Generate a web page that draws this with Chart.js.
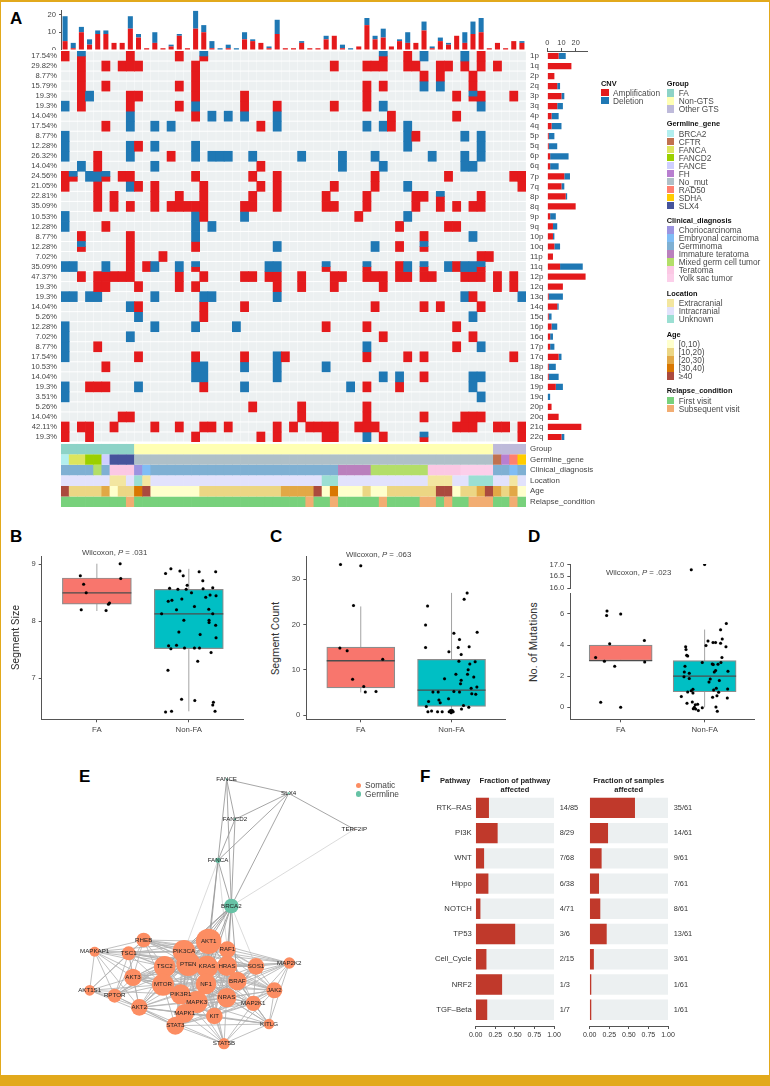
<!DOCTYPE html>
<html>
<head>
<meta charset="utf-8">
<title>CNV landscape</title>
<script src="https://cdn.jsdelivr.net/npm/chart.js@4/dist/chart.umd.js"></script>
<style>
html, body { margin: 0; padding: 0; background: #fff; }
#page { position: relative; width: 770px; height: 1086px; overflow: hidden; font-family: "Liberation Sans", Arial, sans-serif; color: #333; }
#page canvas { position: absolute; }
.txt { position: absolute; white-space: nowrap; transform: translateY(-50%); }
.frame { position: absolute; background: #e2a91c; }
</style>
</head>
<body>
<div id="page"></div>
<script>
// ---- panel A data: one list of sample columns per chromosome arm
var arms = ['1p','1q','2p','2q','3p','3q','4p','4q','5p','5q','6p','6q','7p','7q','8p','8q','9p','9q','10p','10q','11p','11q','12p','12q','13q','14q','15q','16p','16q','17p','17q','18p','18q','19p','19q','20p','20q','21q','22q'];
var armPct = ['17.54%','29.82%','8.77%','15.79%','19.3%','19.3%','14.04%','17.54%','8.77%','12.28%','26.32%','14.04%','24.56%','21.05%','22.81%','35.09%','10.53%','12.28%','8.77%','12.28%','7.02%','35.09%','47.37%','19.3%','19.3%','14.04%','5.26%','12.28%','7.02%','8.77%','17.54%','10.53%','14.04%','19.3%','3.51%','5.26%','14.04%','42.11%','19.3%'];
var ampCells = [
  [0,8,14,42,51],
  [2,5,7,8,9,16,33,37,38,39,42,43,46,47,49,51,53],
  [2,16,44,46,50],
  [2,5,14,16,37,39,50],
  [2,8,9,16,22,37,48,51,55],
  [2,8,14,22,26,33,37],
  [16,40,48],
  [5,24,40],
  [43],
  [9],
  [4,13],
  [4,24],
  [0,7,8,16,23,26,38,47,55,56],
  [0,4,9,11,17,24,26,33,38,56],
  [4,6,11,14,17,23,26,32,37,43,44,51],
  [4,6,8,11,13,14,15,16,17,22,23,26,32,33,37,43,46,48,50,51],
  [17,36],
  [5,41,47,48],
  [2,8,44],
  [8,16,41],
  [8,12,51,52],
  [8,10,41,48],
  [2,4,5,6,7,8,14,17,22,23,25,26,29,33,34,37,38,39,41,42,44,45,49,50,51,53,55],
  [4,5,9,14,16,26,29,33,39,53,55],
  [50],
  [9,17,22,38,44,46,51],
  [17],
  [32,37,48],
  [39,50],
  [4,48],
  [9,16,22,27,37,42,44,55],
  [5],
  [44],
  [3,4,5,17,37,41],
  [],
  [23,29,37],
  [7,8,29,37,44,49,50,51],
  [0,2,3,6,11,14,17,18,20,26,28,30,31,32,33,36,37,38,48,49,50,53,54,56],
  [0,3,16,24,26,32,33,39,56]
];
var delCells = [
  [44,49],[],[],[44,46],[3],[0,16,39,51],[8,18,20,22,26],[8,11,13,26,37,39,42],[0,42,49,51],[0,8,11,16,42,51],
  [0,8,16,18,19,20,23,29,34,38,45,49,51],[2,11,34,39,49,50],[3,4],[8,42],[],[],[0,16,22,42],[0,16,18],[16,50],[26,38],
  [],[0,1,5,11,14,25,26,42,47,49,50],[],[],[0,1,3,4,11,17,18,26,49,56],[8],[9,50],[0,11,16,21],[0,8],[0,37,51],
  [0,26],[16,17,22,26,32],[16,17,26,39,41,50,51],[0,9,22,35,50],[0,51],[],[],[],[37]
];
var bothCells = [
  [2,17,39],[],[],[],[50],[],[],[],[],[],[],[],[1,5],[],[46],[],[],[],[],[2,44],
  [],[16,32,37,44,51],[],[],[],[],[],[],[],[],[],[],[],[],[],[],[],[],[44]
];
var topAmp = [5,1,10,3,9,9,4,4,12,7,1,4,1,2,8,1,12,10,1,0,1,0,6,5,4,1,9,1,1,4,1,1,6,8,1,0,2,14,6,7,2,5,4,4,11,1,5,3,8,4,9,10,1,4,1,5,4];
var topDel = [14,3,3,3,2,2,0,0,7,2,0,6,0,1,1,0,10,4,4,1,2,1,4,1,0,1,8,0,0,1,0,0,2,0,2,1,0,4,2,5,0,1,6,0,5,1,2,1,0,6,7,8,0,0,0,0,1];
var sideAmp = [8,17,5,7,10,7,3,3,1,1,2,2,12,10,13,20,2,4,4,5,4,9,27,11,1,7,1,3,2,2,8,1,1,6,0,3,8,24,10];
var sideDel = [5,0,0,2,2,4,5,7,4,6,13,6,4,2,1,0,4,3,1,4,0,16,0,0,10,1,2,4,2,3,2,5,7,5,2,0,0,0,2];

// annotation tracks as runs of [level, number of samples]
var trackNames = ['Group','Germline_gene','Clinical_diagnosis','Location','Age','Relapse_condition'];
var groupRuns = [['FA',9],['Non-GTS',44],['Other GTS',4]];
var germlineRuns = [['BRCA2',1],['FANCA',2],['FANCD2',2],['FANCE',1],['SLX4',3],['No_mut',44],['CFTR',1],['FH',1],['RAD50',1],['SDHA',1]];
var clinicalRuns = [['Germinoma',4],['Mixed germ cell tumor',1],['Germinoma',1],['Teratoma',3],['Choriocarcinoma',1],['Embryonal carcinoma',1],['Germinoma',23],['Immature teratoma',4],['Mixed germ cell tumor',7],['Teratoma',4],['Yolk sac tumor',4],['Germinoma',2],['Embryonal carcinoma',1],['Germinoma',1]];
var locationRuns = [['Intracranial',6],['Extracranial',2],['Intracranial',1],['Unknown',1],['Extracranial',1],['Intracranial',21],['Unknown',2],['Intracranial',11],['Extracranial',3],['Intracranial',2],['Unknown',3],['Intracranial',2],['Extracranial',1],['Intracranial',1]];
var ageRuns = [['>=40',1],['[10,20)',4],['[20,30)',1],['[0,10)',1],['[10,20)',2],['[30,40)',1],['>=40',1],['[0,10)',6],['[10,20)',10],['[20,30)',4],['>=40',1],['[0,10)',1],['[30,40)',1],['[0,10)',3],['[10,20)',1],['[0,10)',2],['[10,20)',6],['>=40',2],['[0,10)',1],['[10,20)',2],['[20,30)',1],['>=40',1],['[20,30)',1],['[10,20)',1],['[20,30)',1],['[0,10)',1]];
var relapseRuns = [['First visit',8],['Subsequent visit',1],['First visit',21],['Subsequent visit',1],['First visit',2],['Subsequent visit',1],['First visit',5],['Subsequent visit',1],['First visit',4],['Subsequent visit',2],['First visit',1],['Subsequent visit',1],['First visit',2],['Subsequent visit',3],['First visit',2],['Subsequent visit',1],['First visit',1]];

var cnvLevels = ['Amplification','Deletion'];
var groupLevels = ['FA','Non-GTS','Other GTS'];
var germlineLevels = ['BRCA2','CFTR','FANCA','FANCD2','FANCE','FH','No_mut','RAD50','SDHA','SLX4'];
var clinicalLevels = ['Choriocarcinoma','Embryonal carcinoma','Germinoma','Immature teratoma','Mixed germ cell tumor','Teratoma','Yolk sac tumor'];
var locationLevels = ['Extracranial','Intracranial','Unknown'];
var ageLevels = ['[0,10)','[10,20)','[20,30)','[30,40)','>=40'];
var relapseLevels = ['First visit','Subsequent visit'];

// ---- panels B, C, D: x is group position plus jitter
var bFaX = [-.18,-.144,-.116,.253,.26,-.17,.1,.126,.137];
var bFaY = [8.8,8.65,8.5,9.01,8.75,8.2,8.19,8.3,8.32];
var bNonX = [.747,.805,.903,1.112,1.292,.939,1.152,.982,.791,.881,.971,1.155,1.26,1.029,1.231,1.296,1.184,.924,.816,.776,1.061,.866,1.217,.704,1.26,.946,1.22,1.22,1.292,.892,1.123,1.296,.78,.866,.805,.953,1.061,1.116,1.242,1.097,.773,.921,1.065,1.267,1.26,1.285,.747,.812];
var bNonY = [8.84,8.92,8.88,8.87,8.87,8.8,8.71,8.63,8.58,8.56,8.56,8.57,8.59,8.5,8.46,8.45,8.42,8.39,8.37,8.35,8.26,8.2,8.21,8.13,8.13,8.02,8.02,7.98,7.93,7.81,7.77,7.71,7.57,7.58,7.52,7.53,7.53,7.53,7.45,7.3,7.14,6.63,6.61,6.58,6.53,6.42,6.41,6.42];
var cFaX = [-.223,0,-.08,-.23,-.15,.242,-.09,.033,.05,.168];
var cFaY = [33.3,33,24.2,14.8,14.2,12.3,7.9,6.3,5.1,5.2];
var cNonX = [1.172,1.139,.736,.714,1.282,1.026,1.088,.714,1.073,1.194,.971,1.106,1.081,1.26,1.201,1.183,1.048,1.176,.923,1.245,1.106,1.099,1.279,1.216,.795,.853,1.026,1.088,1.223,1.267,.967,.747,.861,.875,.722,1.132,1.19,1.11,.74,.78,.846,.897,.974,.989,1.007,1.018,.996];
var cNonY = [27,25.6,24.1,19.9,18.3,18.1,16.7,14.9,14.9,15.1,14,13.4,11.9,11.8,11.3,10,9,9,8,8.4,7.7,6.9,6.2,5.9,5.1,5.1,5.2,5.1,4.7,4.6,3.6,3,3.3,2.7,1.9,2.1,1.7,1.3,.7,.9,.7,.7,.7,1,1,.7,.5];
var dFaX = [-.163,-.167,0,.282,-.131,-.298,-.194,.286,-.071,-.238,0];
var dFaY = [6.2,5.9,6,4.3,4.08,3.2,2.96,2.92,2.64,.32,0];
var dNonX = [1.258,1.19,1.04,1.21,1.1,1.13,1.19,1.016,1.254,.774,.778,.786,.798,1.206,.972,1.194,1.159,1.091,1.103,.766,1.131,1.115,.758,.817,1.278,.754,.817,1.067,1.052,1.175,1.139,1.107,1.274,1.167,.861,.841,.798,.861,.722,1.095,1.147,1.27,.853,.79,.889,.917,.877,.972,1.135,.865,.893,.925,1.151];
var dNonY = [5.39,4.98,4.27,4.4,4.16,4.16,4.12,3.97,3.9,3.9,3.71,3.35,3.3,3.2,2.88,2.88,2.77,2.79,2.75,2.64,2.36,2.27,2.27,2.19,2.32,1.97,1.85,1.82,1.63,1.72,1.22,1.12,1.18,.97,1.16,1.07,.99,.92,.69,.64,.75,.6,.34,.26,.17,.19,0,-.02,.02,-.09,-.11,-.21,-.26];
var dTopX = [.841,1];
var dTopY = [16.78,17];
var boxCats = ['FA','Non-FA'];
var bBox = {q1:[8.3,7.52], q3:[8.76,8.56], med:[8.5,8.13], lo:[8.18,6.42], hi:[9.01,8.92]};
var cBox = {q1:[6,1.9], q3:[15,12.3], med:[12,5.5], lo:[5,1], hi:[24,27]};
var dBox = {q1:[3,1], q3:[4,3], med:[3,2], lo:[3,0], hi:[4,5]};

// ---- panel E: node positions
var nodeNames = ['FANCE','SLX4','FANCD2','TERF2IP','FANCA','BRCA2','AKT1','RAF1','PIK3CA','RHEB','MAPKAP1','TSC1','SOS1','MAP2K2','HRAS','KRAS','PTEN','TSC2','AKT3','NF1','BRAF','MTOR','JAK2','AKT1S1','RPTOR','PIK3R1','NRAS','MAP2K1','MAPK3','AKT2','MAPK1','KIT','KITLG','STAT3','STAT5B'];
var nodeX = [530,716,555,913,504,544,476,532,402,281,134,236,618,718,531,471,415,344,249,468,562,339,673,119,194,392,530,610,440,268,404,493,657,376,522];
var nodeY = [58,100,178,208,301,438,544,569,574,540,575,580,619,609,618,620,612,620,652,672,663,674,691,691,707,703,713,730,726,742,760,768,792,797,851];
var nodeSize = [1,1,1,.5,2.7,7.3,12.7,8.3,11.3,7.3,5,7,8.3,5.7,10,11,12,10.7,8.7,10.3,9.3,11,8,5.3,7,10,9.7,7.7,11,8.3,9.3,8.3,5.3,9,5.7];
var germlineNodes = ['FANCE','SLX4','FANCD2','FANCA','BRCA2'];
var germlineLinks = [
  ['FANCE','SLX4 FANCD2 FANCA BRCA2'],
  ['SLX4','FANCD2 FANCA BRCA2 TERF2IP'],
  ['FANCD2','FANCA BRCA2'],
  ['FANCA','BRCA2 AKT1 KRAS'],
  ['BRCA2','AKT1 RAF1 PTEN PIK3CA KRAS HRAS BRAF NF1 TSC2 MTOR']
];
var faintLinks = [
  ['TERF2IP','BRCA2'],
  ['FANCA','PIK3CA RAF1'],
  ['BRCA2','SOS1 NRAS']
];
var somaticLinks = [
  ['MAPKAP1','RHEB TSC1 TSC2 AKT3 AKT1S1 RPTOR AKT2 MTOR PIK3CA AKT1 PTEN'],
  ['AKT1S1','TSC1 AKT3 RPTOR AKT2 MTOR RHEB STAT3 PIK3R1'],
  ['RPTOR','RHEB TSC1 TSC2 AKT3 AKT2 MTOR AKT1 PIK3CA STAT3 PTEN'],
  ['RHEB','TSC1 TSC2 AKT3 AKT1 PIK3CA PTEN MTOR RAF1 KRAS HRAS SOS1 MAP2K2 BRAF'],
  ['TSC1','TSC2 AKT3 AKT2 AKT1 PIK3CA PTEN MTOR KRAS HRAS NF1 SOS1 RAF1'],
  ['AKT3','TSC2 AKT2 AKT1 PIK3CA PTEN MTOR KRAS NF1 PIK3R1 BRAF NRAS MAPK3 HRAS MAP2K1'],
  ['AKT2','TSC2 MTOR PIK3R1 MAPK3 MAPK1 STAT3 STAT5B KIT PTEN AKT1 KRAS NF1 NRAS KITLG PIK3CA'],
  ['TSC2','MTOR PIK3CA PTEN AKT1 KRAS HRAS NF1 PIK3R1 BRAF NRAS MAPK3 RAF1 MAP2K1 SOS1'],
  ['MTOR','PIK3CA PTEN AKT1 KRAS HRAS NF1 PIK3R1 BRAF NRAS MAPK3 MAPK1 KIT STAT3 JAK2 MAP2K1'],
  ['PIK3CA','PTEN AKT1 KRAS HRAS NF1 PIK3R1 BRAF NRAS MAPK3 MAPK1 KIT RAF1 SOS1 MAP2K2 JAK2 STAT3'],
  ['PTEN','AKT1 KRAS HRAS NF1 PIK3R1 BRAF NRAS MAPK3 MAPK1 KIT STAT3 JAK2 MAP2K1'],
  ['AKT1','RAF1 KRAS HRAS NF1 PIK3R1 BRAF NRAS MAPK3 MAPK1 KIT SOS1 MAP2K2 STAT3 JAK2'],
  ['RAF1','KRAS HRAS NF1 BRAF NRAS MAPK3 MAPK1 SOS1 MAP2K2 MAP2K1 JAK2 KIT'],
  ['KRAS','HRAS NF1 BRAF NRAS MAPK3 MAPK1 SOS1 MAP2K2 MAP2K1 JAK2 KIT PIK3R1 KITLG STAT3 STAT5B'],
  ['HRAS','NF1 BRAF NRAS MAPK3 MAPK1 SOS1 MAP2K2 MAP2K1 JAK2 KIT PIK3R1 KITLG'],
  ['NF1','BRAF NRAS MAPK3 MAPK1 SOS1 MAP2K2 MAP2K1 JAK2 KIT PIK3R1 STAT3 STAT5B KITLG'],
  ['BRAF','NRAS MAPK3 MAPK1 SOS1 MAP2K2 MAP2K1 JAK2 KIT KITLG'],
  ['NRAS','MAPK3 MAPK1 SOS1 MAP2K2 MAP2K1 JAK2 KIT KITLG STAT3 STAT5B PIK3R1'],
  ['SOS1','MAP2K2 MAP2K1 JAK2 KIT MAPK3 MAPK1'],
  ['MAP2K2','MAP2K1 JAK2 KITLG MAPK3'],
  ['MAP2K1','JAK2 KIT KITLG STAT5B MAPK3 MAPK1 STAT3'],
  ['JAK2','KITLG STAT5B STAT3 KIT MAPK3'],
  ['MAPK3','PIK3R1 MAPK1 KIT STAT3 STAT5B KITLG'],
  ['PIK3R1','MAPK1 KIT STAT3 STAT5B'],
  ['MAPK1','KIT STAT3 STAT5B KITLG'],
  ['KIT','STAT3 STAT5B KITLG'],
  ['KITLG','STAT3 STAT5B'],
  ['STAT3','STAT5B']
];

// ---- panel F
var pathways = ['RTK\u2013RAS','PI3K','WNT','Hippo','NOTCH','TP53','Cell_Cycle','NRF2','TGF\u2013Beta'];
var pathwayFrac = [.165,.276,.103,.158,.056,.5,.133,.333,.143];
var pathwayCounts = ['14/85','8/29','7/68','6/38','4/71','3/6','2/15','1/3','1/7'];
var sampleFrac = [.574,.23,.148,.115,.131,.213,.049,.016,.016];
var sampleCounts = ['35/61','14/61','9/61','7/61','8/61','13/61','3/61','1/61','1/61'];

// ---- colours
var AMP = '#e41a1c', DEL = '#1f78b4', CELL = '#ecf0f1';
var levelColor = {
  'Amplification':AMP, 'Deletion':DEL,
  'FA':'#8dd3c7', 'Non-GTS':'#ffffb3', 'Other GTS':'#bebada',
  'BRCA2':'#b2eeee', 'CFTR':'#c1714f', 'FANCA':'#dde55e', 'FANCD2':'#9bd000', 'FANCE':'#cfcfff', 'FH':'#b87fd0', 'No_mut':'#afc0c8', 'RAD50':'#ff8070', 'SDHA':'#ffcc00', 'SLX4':'#46549c',
  'Choriocarcinoma':'#9c94e0', 'Embryonal carcinoma':'#80bdf5', 'Germinoma':'#7fb0d3', 'Immature teratoma':'#ba80bd', 'Mixed germ cell tumor':'#b3de69', 'Teratoma':'#fbc8e4', 'Yolk sac tumor':'#fccfea',
  'Extracranial':'#f3e6a0', 'Intracranial':'#e2e2fc', 'Unknown':'#9bdfd3',
  '[0,10)':'#ffffcc', '[10,20)':'#ecd684', '[20,30)':'#e2a846', '[30,40)':'#d97700', '>=40':'#ab4a3e',
  'First visit':'#78d17c', 'Subsequent visit':'#f2ad72'
};

Chart.defaults.font.family = '"Liberation Sans", Arial, sans-serif';
Chart.defaults.font.size = 7.6;
Chart.defaults.color = '#444';
Chart.defaults.animation = false;
Chart.defaults.responsive = false;
Chart.defaults.layout.autoPadding = false;
Chart.defaults.plugins.legend.display = false;
Chart.defaults.plugins.tooltip.enabled = false;

var page = document.getElementById('page');

function addCanvas(x, y, w, h) {
  var c = document.createElement('canvas');
  c.width = w; c.height = h;
  c.style.left = x + 'px'; c.style.top = y + 'px';
  c.style.width = w + 'px'; c.style.height = h + 'px';
  page.appendChild(c);
  return c;
}
function addText(html, x, y, css) {
  var d = document.createElement('div');
  d.className = 'txt';
  d.innerHTML = html;
  d.style.left = x + 'px'; d.style.top = y + 'px';
  d.style.cssText += ';' + (css || '');
  page.appendChild(d);
  return d;
}
// fix axis thickness so the plot area lands on a known pixel
function pinW(n) { return function(s) { s.width = n; s.paddingLeft = s.paddingRight = s.paddingTop = s.paddingBottom = 0; }; }
function pinH(n) { return function(s) { s.height = n; s.paddingLeft = s.paddingRight = s.paddingTop = s.paddingBottom = 0; }; }
function at(values) { return function(s) { s.ticks = values.map(function(v) { return {value: v}; }); }; }
function expand(runs) {
  var out = [];
  runs.forEach(function(r) { for (var i = 0; i < r[1]; i++) out.push(r[0]); });
  return out;
}
function indexes(n) { var a = []; for (var i = 0; i < n; i++) a.push(i); return a; }

var noGrid = {display: false, drawTicks: false};
var samples = indexes(57);
var armRows = indexes(arms.length);
var armTicks = armRows.map(function(r) { return r + .5; });

// frame
[[0,0,770,1.5],[0,0,1.2,1086],[769,0,1,1086],[0,1075,770,11]].forEach(function(f) {
  var d = document.createElement('div');
  d.className = 'frame';
  d.style.cssText = 'left:' + f[0] + 'px;top:' + f[1] + 'px;width:' + f[2] + 'px;height:' + f[3] + 'px';
  page.appendChild(d);
});

// panel letters
[['A',10,19],['B',10,537],['C',270,537],['D',528,537],['E',79,777],['F',420,777]].forEach(function(l) {
  addText(l[0], l[1], l[2], 'font:bold 17px "Liberation Sans";color:#000');
});

// ---- A: top bars
new Chart(addCanvas(30, 6, 496, 44), {
  type: 'bar',
  data: { labels: samples, datasets: [
    {data: topAmp, backgroundColor: AMP},
    {data: topDel, backgroundColor: DEL}
  ]},
  options: {
    layout: {padding: {top: 4}},
    datasets: {bar: {barPercentage: .62, categoryPercentage: 1}},
    scales: {
      x: {display: false, stacked: true},
      y: {stacked: true, min: 0, max: 22.5, afterFit: pinW(31), afterBuildTicks: at([0,10,20]),
          ticks: {padding: 3},
          grid: {drawOnChartArea: false, tickLength: 2, color: '#555'}, border: {color: '#555'}}
    }
  }
});

// ---- A: matrix
var matrixSets = [];
armRows.forEach(function(r) {
  matrixSets.push({data: samples.map(function() { return [r + .05, r + .95]; }), backgroundColor: CELL, barPercentage: .97, order: 3});
  var colors = [], vals = samples.map(function(c) {
    var isAmp = ampCells[r].indexOf(c) >= 0, isDel = delCells[r].indexOf(c) >= 0;
    colors.push(isAmp ? AMP : DEL);
    return (isAmp || isDel) ? [r, r + 1] : null;
  });
  matrixSets.push({data: vals, backgroundColor: colors, order: 2});
  if (bothCells[r].length) {
    matrixSets.push({data: samples.map(function(c) { return bothCells[r].indexOf(c) >= 0 ? [r, r + .5] : null; }), backgroundColor: DEL, order: 1});
    matrixSets.push({data: samples.map(function(c) { return bothCells[r].indexOf(c) >= 0 ? [r + .5, r + 1] : null; }), backgroundColor: AMP, order: 1});
  }
});
new Chart(addCanvas(20, 48, 535, 397), {
  type: 'bar',
  data: {labels: samples, datasets: matrixSets},
  options: {
    layout: {padding: {top: 3, bottom: 3}},
    datasets: {bar: {grouped: false, categoryPercentage: 1, barPercentage: 1}},
    scales: {
      x: {display: false},
      y: {reverse: true, min: 0, max: 39, afterFit: pinW(41), afterBuildTicks: at(armTicks),
          ticks: {autoSkip: false, padding: 4, callback: function(v, i) { return armPct[i]; }},
          grid: noGrid, border: {display: false}},
      yr: {position: 'right', reverse: true, min: 0, max: 39, afterFit: pinW(29), afterBuildTicks: at(armTicks),
          ticks: {autoSkip: false, padding: 4, font: {size: 8}, callback: function(v, i) { return arms[i]; }},
          grid: noGrid, border: {display: false}}
    }
  }
});

// ---- A: side bars
new Chart(addCanvas(540, 30, 56, 413), {
  type: 'bar',
  data: {labels: arms, datasets: [
    {data: sideAmp, backgroundColor: AMP},
    {data: sideDel, backgroundColor: DEL}
  ]},
  options: {
    indexAxis: 'y',
    layout: {padding: {left: 7.3, right: 9, bottom: 1}},
    datasets: {bar: {barPercentage: .62, categoryPercentage: 1}},
    scales: {
      y: {display: false, stacked: true},
      x: {position: 'top', stacked: true, min: 0, max: 28, afterFit: pinH(21), afterBuildTicks: at([0,10,20]),
          ticks: {maxRotation: 0, padding: 1, font: {size: 7.4}},
          grid: {drawOnChartArea: false, tickLength: 3, color: '#555'}, border: {color: '#555'}}
    }
  }
});

// ---- A: annotation tracks
var trackValues = [groupRuns, germlineRuns, clinicalRuns, locationRuns, ageRuns, relapseRuns].map(expand);
new Chart(addCanvas(61, 441, 560, 68), {
  type: 'bar',
  data: {labels: samples, datasets: trackValues.map(function(levels, t) {
    return {
      data: levels.map(function() { return [t + .03, t + .97]; }),
      backgroundColor: levels.map(function(l) { return levelColor[l]; })
    };
  })},
  options: {
    layout: {padding: {top: 2.7, bottom: 2}},
    datasets: {bar: {grouped: false, categoryPercentage: 1, barPercentage: 1}},
    scales: {
      x: {display: false},
      y: {position: 'right', reverse: true, min: 0, max: 6, afterFit: pinW(95), afterBuildTicks: at([.5,1.5,2.5,3.5,4.5,5.5]),
          ticks: {autoSkip: false, padding: 4, font: {size: 7.9}, callback: function(v, i) { return trackNames[i]; }},
          grid: noGrid, border: {display: false}}
    }
  }
});

// ---- A: legends
function legendBlock(title, levels, x, y) {
  addText(title, x, y, 'font:bold 7.4px "Liberation Sans";color:#111');
  levels.forEach(function(l, i) {
    var rowY = y + 10.4 + i * 8;
    var sw = document.createElement('div');
    sw.style.cssText = 'position:absolute;left:' + x + 'px;top:' + (rowY - 4) + 'px;width:7.6px;height:7.6px;background:' + levelColor[l];
    page.appendChild(sw);
    addText(l === '>=40' ? '\u226540' : l, x + 12, rowY, 'font:8.3px "Liberation Sans";color:#4a4a4a');
  });
}
legendBlock('CNV', cnvLevels, 601, 82.5);
legendBlock('Group', groupLevels, 666.7, 82.7);
legendBlock('Germline_gene', germlineLevels, 666.7, 123.3);
legendBlock('Clinical_diagnosis', clinicalLevels, 666.7, 220);
legendBlock('Location', locationLevels, 666.7, 292.7);
legendBlock('Age', ageLevels, 666.7, 333.7);
legendBlock('Relapse_condition', relapseLevels, 666.7, 390.3);

// ---- B, C, D: box plots
function pts(xs, ys) { return xs.map(function(x, i) { return {x: x, y: ys[i]}; }); }
function boxChart(o) {
  var box = o.box, halfW = .375, sets = [];
  if (box) {
    sets.push({type: 'scatter', data: pts(o.faX.concat(o.nonX), o.faY.concat(o.nonY)), backgroundColor: '#000', pointRadius: 1.5, order: 0});
    [0,1].forEach(function(g) {
      sets.push({type: 'scatter', showLine: true, data: [{x: g - halfW, y: box.med[g]}, {x: g + halfW, y: box.med[g]}], borderColor: '#4d4d4d', borderWidth: 1.3, pointRadius: 0, order: 1});
      sets.push({type: 'scatter', showLine: true, data: [{x: g, y: box.lo[g]}, {x: g, y: box.hi[g]}], borderColor: '#a3a3a3', borderWidth: 1, pointRadius: 0, order: 3});
    });
    sets.push({type: 'bar', data: [{x: 0, y: [box.q1[0], box.q3[0]]}, {x: 1, y: [box.q1[1], box.q3[1]]}],
      backgroundColor: ['#f8766d', '#00bfc4'], borderColor: '#8c8c8c', borderWidth: 1.2, borderSkipped: false, barThickness: o.boxPx, order: 2});
  } else {
    sets.push({type: 'scatter', data: pts(o.faX, o.faY), backgroundColor: '#000', pointRadius: 1.5});
  }
  new Chart(addCanvas(o.x, o.y, o.w, o.h), {
    type: 'scatter',
    data: {datasets: sets},
    options: {
      layout: {padding: {top: o.padTop || 0, bottom: o.padBottom || 0}},
      scales: {
        x: o.noX ? {type: 'linear', display: false, min: -.6, max: 1.6} : {
          type: 'linear', min: -.6, max: 1.6, offset: false, afterFit: pinH(o.axisH), afterBuildTicks: at([0,1]),
          ticks: {autoSkip: false, padding: 3, font: {size: 7.8}, color: '#444', callback: function(v, i) { return boxCats[i]; }},
          grid: {offset: false, drawOnChartArea: false, tickLength: 3, color: '#555'}, border: {color: '#555'}
        },
        y: {min: o.min, max: o.max, afterFit: pinW(o.axisW), afterBuildTicks: at(o.ticks),
          ticks: {autoSkip: false, padding: 3, font: {size: 7.6}, color: '#444',
            callback: function(v) { return o.decimals ? v.toFixed(1) : v; }},
          grid: {drawOnChartArea: false, tickLength: 3, color: '#555'}, border: {color: '#555'}}
      }
    }
  });
}
boxChart({x: 20, y: 552, w: 224, h: 188, padTop: 4.7, axisW: 21.7, axisH: 20.7, min: 6.28, max: 9.133, ticks: [7,8,9],
  box: bBox, boxPx: 69, faX: bFaX, faY: bFaY, nonX: bNonX, nonY: bNonY});
boxChart({x: 285, y: 552, w: 221, h: 188, padTop: 4.7, axisW: 21.3, axisH: 20.7, min: -.95, max: 35, ticks: [0,10,20,30],
  box: cBox, boxPx: 68, faX: cFaX, faY: cFaY, nonX: cNonX, nonY: cNonY});
boxChart({x: 545, y: 590, w: 210, h: 149, padTop: 3.3, axisW: 25.3, axisH: 19.7, min: -.77, max: 7.33, ticks: [0,2,4,6],
  box: dBox, boxPx: 63, faX: dFaX, faY: dFaY, nonX: dNonX, nonY: dNonY});
boxChart({x: 545, y: 558, w: 210, h: 36, padTop: 6, padBottom: 6, axisW: 25.3, noX: true, min: 16, max: 17.02, ticks: [16,16.5,17], decimals: true,
  faX: dTopX, faY: dTopY});

// box of even size so the rotated text stays on whole pixels
function yTitle(t, x, y) {
  var d = addText(t, x, y, 'font:10.7px/12px Roboto;color:#333;writing-mode:vertical-rl;height:100px;width:12px;text-align:center');
  d.style.transform = 'translate(-50%,-50%) rotate(180deg)';
}
yTitle('Segment Size', 16, 638);
yTitle('Segment Count', 276, 638);
yTitle('No. of Mutations', 534, 642);
var wilcoxCss = 'font:7.8px "Liberation Sans";color:#444';
addText('Wilcoxon, <i>P</i> = .031', 82, 552, wilcoxCss);
addText('Wilcoxon, <i>P</i> = .063', 346, 553.7, wilcoxCss);
addText('Wilcoxon, <i>P</i> = .023', 606, 572.3, wilcoxCss);

// ---- E: network
function linkPoints(links) {
  var out = [];
  links.forEach(function(l) {
    var a = nodeNames.indexOf(l[0]);
    l[1].split(' ').forEach(function(name) {
      var b = nodeNames.indexOf(name);
      out.push({x: nodeX[a], y: nodeY[a]}, {x: nodeX[b], y: nodeY[b]}, {x: NaN, y: NaN});
    });
  });
  return out;
}
var nodeLabels = {
  id: 'nodeLabels',
  afterDatasetsDraw: function(chart) {
    var ctx = chart.ctx;
    ctx.save();
    ctx.font = '6.2px "Liberation Sans"';
    ctx.fillStyle = '#222';
    ctx.textAlign = 'center';
    ctx.textBaseline = 'middle';
    nodeNames.forEach(function(n, i) {
      ctx.fillText(n, chart.scales.x.getPixelForValue(nodeX[i]), chart.scales.y.getPixelForValue(nodeY[i]));
    });
    ctx.restore();
  }
};
new Chart(addCanvas(50, 760, 340, 310), {
  type: 'scatter',
  data: {datasets: [
    {data: pts(nodeX, nodeY), order: 0,
     pointRadius: nodeSize, borderWidth: 0,
     backgroundColor: nodeNames.map(function(n) { return germlineNodes.indexOf(n) >= 0 ? '#66c2a5' : '#fc8d62'; })},
    {data: linkPoints(germlineLinks), showLine: true, spanGaps: false, pointRadius: 0, borderColor: '#9c9c9c', borderWidth: .9, order: 1},
    {data: linkPoints(somaticLinks), showLine: true, spanGaps: false, pointRadius: 0, borderColor: '#b0b0b0', borderWidth: .8, order: 2},
    {data: linkPoints(faintLinks), showLine: true, spanGaps: false, pointRadius: 0, borderColor: '#d2d2d2', borderWidth: .8, order: 3}
  ]},
  plugins: [nodeLabels],
  options: {
    scales: {
      x: {display: false, min: 0, max: 1020},
      y: {display: false, reverse: true, min: 0, max: 930}
    }
  }
});
[['Somatic', '#fc8d62', 785.3], ['Germline', '#66c2a5', 794]].forEach(function(l) {
  var dot = document.createElement('div');
  dot.style.cssText = 'position:absolute;left:355.5px;top:' + (l[2] - 2.7) + 'px;width:5.4px;height:5.4px;border-radius:50%;background:' + l[1];
  page.appendChild(dot);
  addText(l[0], 365, l[2], 'font:8.4px "Liberation Sans";color:#444');
});

// ---- F: pathway bars
function pathwayChart(o) {
  var rows = indexes(pathways.length);
  var scales = {
    x: {type: 'linear', min: 0, max: 1, afterFit: pinH(18), afterBuildTicks: at([0,.25,.5,.75,1]),
        ticks: {autoSkip: false, maxRotation: 0, padding: 2, font: {size: 7}, color: '#333', callback: function(v) { return v.toFixed(2); }},
        grid: {drawOnChartArea: false, tickLength: 3, color: '#555'}, border: {color: '#555'}},
    y: {type: 'linear', offset: false, reverse: true, min: -.51, max: 8.645, display: !!o.labels, afterFit: pinW(o.leftW), afterBuildTicks: at(rows),
        ticks: {autoSkip: false, padding: 4, font: {size: 7.7}, color: '#333', callback: function(v, i) { return pathways[i]; }},
        grid: {display: false, drawTicks: false, offset: false}, border: {display: false}},
    yr: {type: 'linear', offset: false, position: 'right', reverse: true, min: -.51, max: 8.645, afterFit: pinW(o.rightW), afterBuildTicks: at(rows),
        ticks: {autoSkip: false, padding: 5.7, font: {size: 7.4}, color: '#333', callback: function(v, i) { return o.counts[i]; }},
        grid: {display: false, drawTicks: false, offset: false}, border: {display: false}}
  };
  new Chart(addCanvas(o.x, 790, o.w, 254), {
    type: 'bar',
    data: {datasets: [
      {data: o.fractions.map(function(f, i) { return {x: f, y: i}; }), backgroundColor: '#c0392b', order: 1},
      {data: rows.map(function(i) { return {x: 1, y: i}; }), backgroundColor: CELL, order: 2}
    ]},
    options: {
      indexAxis: 'y',
      layout: {padding: {top: 5, left: o.padLeft || 0}},
      datasets: {bar: {grouped: false, barThickness: 19.7}},
      scales: scales
    }
  });
}
pathwayChart({x: 410, w: 180, leftW: 65.7, rightW: 36, labels: true, fractions: pathwayFrac, counts: pathwayCounts});
pathwayChart({x: 580, w: 120, padLeft: 9.7, leftW: 0, rightW: 32, fractions: sampleFrac, counts: sampleCounts});
var headCss = 'font:bold 7.5px "Liberation Sans";color:#222;text-align:center;line-height:9px';
addText('Pathway', 440, 780.3, headCss);
var h1 = addText('Fraction of pathway<br>affected', 515, 784.8, headCss);
h1.style.transform = 'translate(-50%,-50%)';
var h2 = addText('Fraction of samples<br>affected', 628.7, 784.8, headCss);
h2.style.transform = 'translate(-50%,-50%)';
</script>
</body>
</html>
